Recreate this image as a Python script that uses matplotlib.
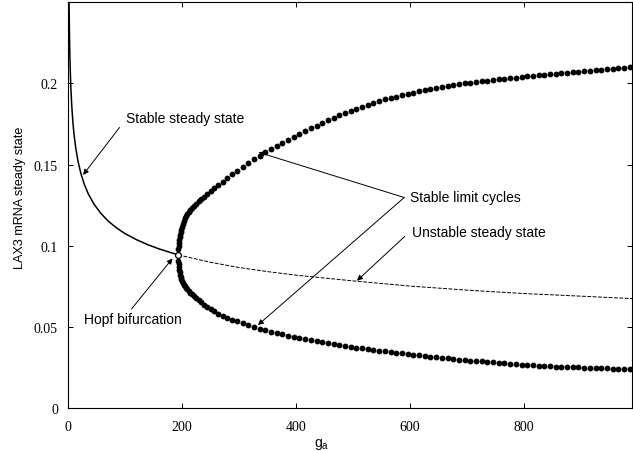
import matplotlib
matplotlib.use("Agg")
import matplotlib.pyplot as plt

# stable steady state (solid) up to the Hopf point
ss_x = [0.8, 1.0, 1.3, 1.7, 2.2, 2.8, 3.5, 4.5, 6, 8, 10, 13, 17, 22, 28, 35,
        45, 57, 70, 85, 100, 120, 140, 160, 180, 193]
ss_y = [0.2768, 0.2650, 0.2517, 0.2388, 0.2270, 0.2165, 0.2073, 0.1973, 0.1865,
        0.1763, 0.1687, 0.1603, 0.1521, 0.1446, 0.1379, 0.1320, 0.1257, 0.1200,
        0.1152, 0.1109, 0.1074, 0.1037, 0.1006, 0.0980, 0.0958, 0.0944]

# unstable steady state (dashed) after the Hopf point
us_x = [193, 250, 300, 350, 400, 500, 600, 700, 800, 900, 990]
us_y = [0.0944, 0.0898, 0.0866, 0.0841, 0.0819, 0.0784, 0.0752, 0.0727, 0.0706,
        0.0690, 0.0675]

# limit cycle max / min (dots)
lc_x = [193, 193.3, 193.7, 194.2, 194.8, 195.5, 196.3, 197.2, 198.3, 199.5, 201,
        202.7, 204.6, 206.7, 209, 211.6, 214.5, 217.7, 221.2, 225, 229, 233.5,
        238.5, 244, 250, 256.5, 263.5, 271, 279, 287.5, 296.5, 306, 316, 326, 336,
        346, 356, 366, 376, 386, 396, 406, 416, 426, 436, 446, 456, 466, 476, 486,
        496, 506, 516, 526, 536, 546, 556, 566, 576, 586, 596, 606, 616, 626, 636,
        646, 656, 666, 676, 686, 696, 706, 716, 726, 736, 746, 756, 766, 776, 786,
        796, 806, 816, 826, 836, 846, 856, 866, 876, 886, 896, 906, 916, 926, 936,
        946, 956, 966, 976, 986]
lc_max = [0.0944, 0.0981, 0.1001, 0.1018, 0.1035, 0.1052, 0.1068, 0.1083, 0.1100,
          0.1117, 0.1136, 0.1153, 0.1168, 0.1182, 0.1195, 0.1208, 0.1221, 0.1234,
          0.1247, 0.1260, 0.1273, 0.1287, 0.1302, 0.1318, 0.1335, 0.1353, 0.1372,
          0.1394, 0.1417, 0.1440, 0.1463, 0.1486, 0.1510, 0.1532, 0.1554,
          0.1575, 0.1595, 0.1615, 0.1634, 0.1652, 0.1671, 0.1688, 0.1706, 0.1722,
          0.1739, 0.1755, 0.1771, 0.1787, 0.1802, 0.1816, 0.1830, 0.1843, 0.1856,
          0.1868, 0.1879, 0.1890, 0.1900, 0.1909, 0.1918, 0.1926, 0.1934, 0.1942,
          0.1950, 0.1957, 0.1964, 0.1971, 0.1978, 0.1984, 0.1990, 0.1995, 0.2000,
          0.2004, 0.2008, 0.2012, 0.2016, 0.2020, 0.2024, 0.2028, 0.2031, 0.2035,
          0.2038, 0.2042, 0.2045, 0.2049, 0.2052, 0.2056, 0.2059, 0.2062, 0.2065,
          0.2068, 0.2071, 0.2074, 0.2077, 0.2080, 0.2083, 0.2086, 0.2089, 0.2092,
          0.2095, 0.2098]
lc_min = [0.0944, 0.0907, 0.0887, 0.0870, 0.0853, 0.0837, 0.0822, 0.0808, 0.0795,
          0.0783, 0.0771, 0.0760, 0.0750, 0.0741, 0.0732, 0.0722, 0.0712, 0.0701,
          0.0689, 0.0677, 0.0664, 0.0651, 0.0637, 0.0623, 0.0609, 0.0596, 0.0583,
          0.0570, 0.0558, 0.0546, 0.0534, 0.0522, 0.0511, 0.0500, 0.0490,
          0.0481, 0.0472, 0.0463, 0.0455, 0.0447, 0.0440, 0.0433, 0.0426, 0.0419,
          0.0413, 0.0407, 0.0401, 0.0395, 0.0389, 0.0384, 0.0379, 0.0374, 0.0369,
          0.0364, 0.0359, 0.0355, 0.0350, 0.0346, 0.0342, 0.0338, 0.0334, 0.0330,
          0.0326, 0.0322, 0.0318, 0.0314, 0.0311, 0.0307, 0.0304, 0.0300, 0.0297,
          0.0294, 0.0291, 0.0288, 0.0285, 0.0282, 0.0279, 0.0277, 0.0274, 0.0272,
          0.0269, 0.0267, 0.0265, 0.0263, 0.0261, 0.0259, 0.0257, 0.0255, 0.0254,
          0.0252, 0.0251, 0.0249, 0.0248, 0.0247, 0.0246, 0.0245, 0.0244, 0.0243,
          0.0243, 0.0242]

hopf = (193, 0.0944)

xticks = [0, 200, 400, 600, 800]
yticks = [0, 0.05, 0.1, 0.15, 0.2]
ytick_labels = ["0", "0.05", "0.1", "0.15", "0.2"]

fig = plt.figure(figsize=(6.33, 4.52), dpi=100)
ax = fig.add_axes([0.1079, 0.0945, 0.8905, 0.8989])

ax.plot(ss_x, ss_y, color="black", lw=1.1)
ax.plot(us_x, us_y, color="black", lw=0.7, dashes=(4, 1.5))
ax.plot(lc_x, lc_max, "o", color="black", ms=4.2, mew=0)
ax.plot(lc_x, lc_min, "o", color="black", ms=4.2, mew=0)
ax.plot(*hopf, "o", mfc="white", mec="black", ms=4.2, mew=0.9, zorder=5)

ax.set_xlim(0, 990)
ax.set_ylim(0, 0.25)
ax.set_xticks(xticks)
ax.set_yticks(yticks)
ax.set_yticklabels(ytick_labels)
ax.tick_params(direction="in", top=True, right=True, length=3.5, width=0.7,
               labelsize=10)
ax.tick_params(axis="x", pad=8.5)
ax.tick_params(axis="y", pad=7.5)
for lab in ax.get_xticklabels() + ax.get_yticklabels():
    lab.set_family("Liberation Serif")
for sp in ax.spines.values():
    sp.set_linewidth(0.8)

ax.set_xlabel("g$_\\mathregular{a}$", family="Liberation Sans", fontsize=10)
ax.xaxis.set_label_coords(0.45, -0.068)
ax.set_ylabel("LAX3 mRNA steady state", family="Liberation Sans", fontsize=9.1)
ax.yaxis.set_label_coords(-0.0745, 0.52)

arrow = dict(arrowstyle="-|>", lw=0.7, color="black", mutation_scale=8,
             shrinkA=0, shrinkB=0)
txt = dict(family="Liberation Sans", fontsize=10, va="center")

ax.annotate("", xy=(26, 0.1436), xytext=(90, 0.1728), arrowprops=arrow)
ax.text(101, 0.1789, "Stable steady state", **txt)

ax.annotate("", xy=(334, 0.1575), xytext=(590, 0.1297), arrowprops=arrow)
ax.annotate("", xy=(333, 0.0512), xytext=(590, 0.1297), arrowprops=arrow)
ax.text(600, 0.1297, "Stable limit cycles", **txt)

ax.annotate("", xy=(507, 0.0785), xytext=(591, 0.1058), arrowprops=arrow)
ax.text(604, 0.1087, "Unstable steady state", **txt)

ax.annotate("", xy=(183, 0.0922), xytext=(111, 0.0611), arrowprops=arrow)
ax.text(27.7, 0.0549, "Hopf bifurcation", **txt)

fig.savefig("out.png", dpi=100)
